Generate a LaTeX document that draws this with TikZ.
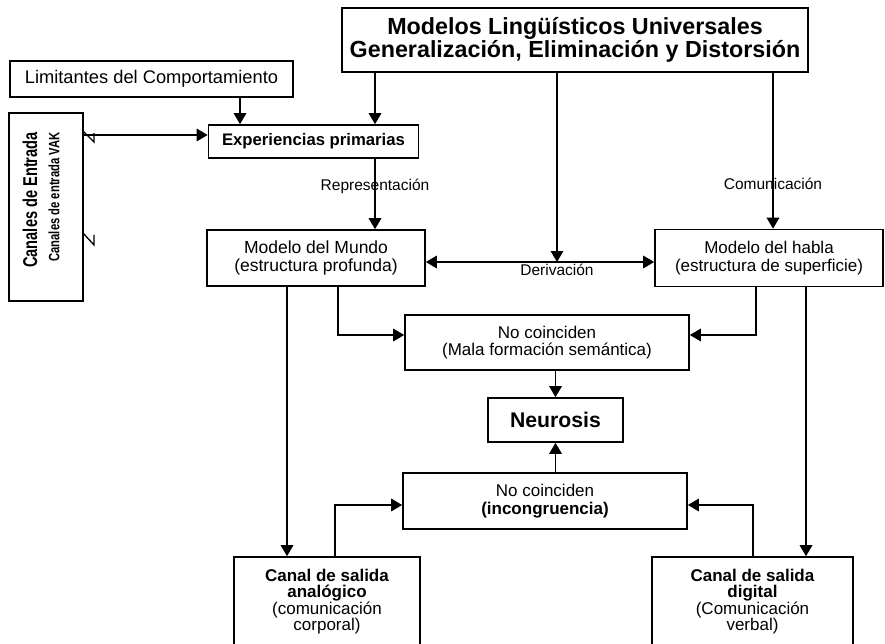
\documentclass[tikz,border=0pt]{standalone}
\usepackage{fontspec}
\setmainfont{Liberation Sans}
\usetikzlibrary{arrows.meta}
\begin{document}
\begin{tikzpicture}[x=1pt,y=-1pt,
  box/.style={draw, line width=1.6pt, inner sep=0pt, align=center},
  conn/.style={line width=1.6pt},
  arr/.style={conn, -{Triangle[length=11pt,width=12.5pt]}},
  darr/.style={conn, {Triangle[length=11pt,width=12.5pt]}-{Triangle[length=11pt,width=12.5pt]}},
  lbl/.style={inner sep=0pt, font=\fontsize{15.5}{17}\selectfont},
  txt/.style={font=\fontsize{17}{17.5}\selectfont},
  tickmark/.style={line width=1.3pt}
]
\useasboundingbox (0,0) rectangle (885,644);
\fill[white] (0,0) rectangle (885,644);

% boxes
\node[box, minimum width=466pt, minimum height=64pt, font=\fontsize{23.3}{22}\selectfont\bfseries] (top) at (575,40)
  {Modelos Lingüísticos Universales\\Generalización, Eliminación y Distorsión};
\node[box, minimum width=283pt, minimum height=36pt, font=\fontsize{18.3}{18}\selectfont] (lim) at (151.5,79)
  {Limitantes del Comportamiento};
\node[box, minimum width=210pt, minimum height=33pt, font=\fontsize{16.7}{17}\selectfont\bfseries] (exp) at (313.5,141.5)
  {Experiencias primarias};
\node[box, minimum width=74pt, minimum height=188pt] (can) at (46,207) {};
\node[rotate=90, inner sep=0pt, font=\fontsize{20}{20}\selectfont\bfseries] (canA) at (30,200)
  {\scalebox{0.73}[1]{Canales de Entrada}};
\node[rotate=90, inner sep=0pt, font=\fontsize{15}{15}\selectfont\bfseries] (canB) at (54,197)
  {\scalebox{0.75}[1]{Canales de entrada VAK}};
\node[box, txt, minimum width=218pt, minimum height=56pt, font=\fontsize{17.5}{17.5}\selectfont] (mundo) at (316,258)
  {Modelo del Mundo\\(estructura profunda)};
\node[box, txt, minimum width=228pt, minimum height=57pt] (habla) at (769,258)
  {Modelo del habla\\(estructura de superficie)};
\node[box, txt, minimum width=284pt, minimum height=55pt] (mala) at (547,342.5)
  {No coinciden\\(Mala formación semántica)};
\node[box, minimum width=135pt, minimum height=44pt, font=\fontsize{21.2}{21}\selectfont\bfseries] (neur) at (555.5,420)
  {Neurosis};
\node[box, txt, minimum width=284pt, minimum height=56pt] (incon) at (545,501)
  {No coinciden\\\textbf{(incongruencia)}};
\node[box, minimum width=186pt, minimum height=110pt] (ana) at (327,612) {};
\node[inner sep=0pt, anchor=north, align=center, font=\fontsize{17}{16.3}\selectfont] (anatxt) at (327,569)
  {\textbf{Canal de salida}\\\textbf{analógico}\\(comunicación\\corporal)};
\node[box, minimum width=201pt, minimum height=110pt] (dig) at (752.5,612) {};
\node[inner sep=0pt, anchor=north, align=center, font=\fontsize{17}{16.3}\selectfont] (digtxt) at (752.5,569)
  {\textbf{Canal de salida}\\\textbf{digital}\\(Comunicación\\verbal)};

% guide coordinates
\coordinate (xa) at (240,0);
\coordinate (xb) at (375,0);
\coordinate (xc) at (557,0);
\coordinate (xd) at (773,0);
\coordinate (xe) at (287,0);
\coordinate (xf) at (338,0);
\coordinate (xg) at (756,0);
\coordinate (xh) at (806,0);
\coordinate (xi) at (555.5,0);
\coordinate (xj) at (335,0);
\coordinate (xk) at (753,0);
\coordinate (yc) at (0,135);
\coordinate (yd) at (0,262);
\coordinate (ym) at (0,335);
\coordinate (yi) at (0,505);

% connectors
\draw[arr] (lim.south -| xa) -- (exp.north -| xa);
\draw[arr] (top.south -| xb) -- (exp.north -| xb);
\draw[arr] (can.east |- yc) -- (exp.west |- yc);
\draw[tickmark] (83,131) -- (94,142) -- (94,133);
\draw[tickmark] (83,233) -- (94,245) -- (94,235);
\draw[arr] (exp.south -| xb) -- (mundo.north -| xb);
\draw[arr] (top.south -| xd) -- (habla.north -| xd);
\draw[darr] (mundo.east |- yd) -- (habla.west |- yd);
\coordinate (dmeet) at (xc |- yd);
\draw[arr] (top.south -| xc) -- (dmeet);
\draw[arr] (mundo.south -| xf) -- (xf |- ym) -- (mala.west |- ym);
\draw[arr] (habla.south -| xg) -- (xg |- ym) -- (mala.east |- ym);
\draw[arr] (mundo.south -| xe) -- (ana.north -| xe);
\draw[arr] (habla.south -| xh) -- (dig.north -| xh);
\draw[arr] (mala.south -| xi) -- (neur.north -| xi);
\draw[arr] (incon.north -| xi) -- (neur.south -| xi);
\draw[arr] (ana.north -| xj) -- (xj |- yi) -- (incon.west |- yi);
\draw[arr] (dig.north -| xk) -- (xk |- yi) -- (incon.east |- yi);

% labels
\node[lbl] (lrep) at (375,186) {Representación};
\node[lbl] (lcom) at (773,184) {Comunicación};
\node[lbl] (lder) at (557,270) {Derivación};
\end{tikzpicture}
\end{document}
